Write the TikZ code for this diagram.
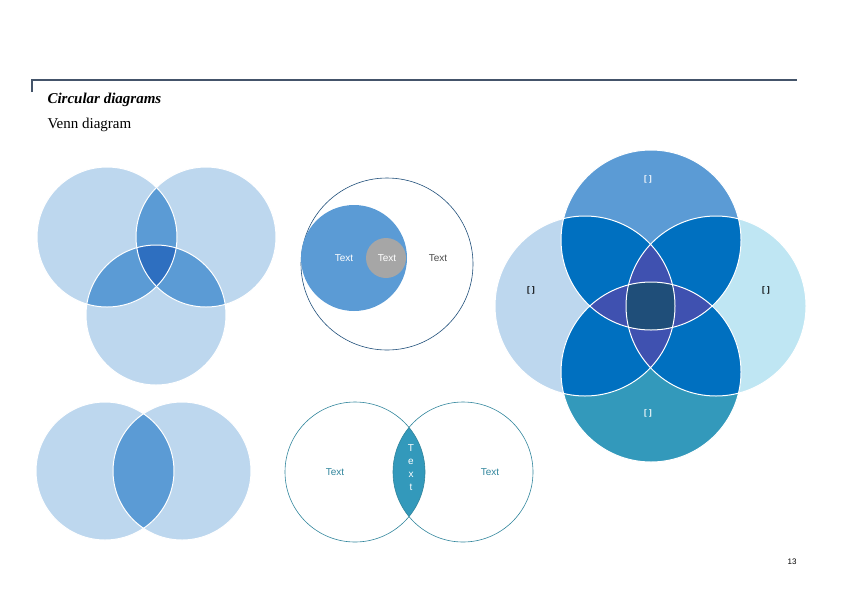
\documentclass[tikz,border=0pt]{standalone}
\usepackage{fontspec}
\setmainfont{Liberation Serif}
\setsansfont{Liberation Sans}
\begin{document}
\begin{tikzpicture}[x=1pt,y=-1pt,
  wline/.style={draw=white,line width=1pt},
  lbl/.style={font=\sffamily\fontsize{10}{12}\selectfont},
  brk/.style={font=\sffamily\bfseries\fontsize{8}{10}\selectfont}]
\useasboundingbox (0,0) rectangle (842,595);
\definecolor{lb}{HTML}{BDD7EE}
\definecolor{mb}{HTML}{5B9BD5}
\definecolor{db}{HTML}{2E6FC0}
\definecolor{cy}{HTML}{BFE6F3}
\definecolor{tb}{HTML}{3399BB}
\definecolor{pb}{HTML}{0070C0}
\definecolor{ib}{HTML}{3F51B0}
\definecolor{nb}{HTML}{1F4E79}
\definecolor{teal}{HTML}{31859C}
\definecolor{head}{HTML}{44546A}
% header
\draw[head,line width=1.5pt] (32,92) -- (32,80) -- (797,80);
\node[anchor=west,font=\bfseries\itshape\fontsize{15}{18}\selectfont] (t1) at (44,100) {Circular diagrams};
\node[anchor=west,font=\fontsize{15}{18}\selectfont] (t2) at (44,125) {Venn diagram};
\node[font=\sffamily\fontsize{8}{10}\selectfont] (pg) at (792,562) {13};
% three-circle venn
\def\A{(107,237) circle (70)}
\def\B{(206,237) circle (70)}
\def\C{(156,315) circle (70)}
\fill[lb] \A; \fill[lb] \B; \fill[lb] \C;
\begin{scope}\clip \A; \fill[mb] \B; \fill[mb] \C; \end{scope}
\begin{scope}\clip \B; \fill[mb] \C; \end{scope}
\begin{scope}\clip \A; \clip \B; \fill[db] \C; \end{scope}
\draw[wline] \A; \draw[wline] \B; \draw[wline] \C;
% two-circle venn
\def\D{(105,471) circle (69)}
\def\E{(182,471) circle (69)}
\fill[lb] \D; \fill[lb] \E;
\begin{scope}\clip \D; \fill[mb] \E; \end{scope}
\draw[wline] \D; \draw[wline] \E;
% nested circles
\draw[nb,line width=0.6pt] (387,264) circle (86);
\fill[mb] (354,258) circle (53);
\fill[gray!70] (386,258) circle (20);
\node[lbl,text=white] (n1) at (344,258) {Text};
\node[lbl,text=white] (n2) at (387,258) {Text};
\node[lbl,text=black!70] (n3) at (438,258) {Text};
% two outlined circles
\def\F{(355,472) circle (70)}
\def\G{(463,472) circle (70)}
\begin{scope}\clip \F; \fill[tb] \G; \end{scope}
\draw[teal,line width=0.6pt] \F; \draw[teal,line width=0.6pt] \G;
\node[lbl,text=teal] (m1) at (335,472) {Text};
\node[lbl,text=teal] (m2) at (490,472) {Text};
\node[lbl,text=white,align=center,font=\sffamily\fontsize{10}{13}\selectfont] (m3) at (411,468) {T\\e\\x\\t};
% four-circle venn
\def\T{(651,240) circle (90)}
\def\L{(585,306) circle (90)}
\def\R{(716,306) circle (90)}
\def\S{(651,372) circle (90)}
\fill[mb] \T; \fill[lb] \L; \fill[cy] \R; \fill[tb] \S;
\begin{scope}\clip \T; \fill[pb] \L; \fill[pb] \R; \fill[pb] \S; \end{scope}
\begin{scope}\clip \L; \fill[pb] \R; \fill[pb] \S; \end{scope}
\begin{scope}\clip \R; \fill[pb] \S; \end{scope}
\begin{scope}\clip \T; \clip \L; \fill[ib] \R; \fill[ib] \S; \end{scope}
\begin{scope}\clip \S; \clip \L; \fill[ib] \R; \end{scope}
\begin{scope}\clip \S; \clip \R; \fill[ib] \T; \end{scope}
\begin{scope}\clip \T; \clip \L; \clip \R; \fill[nb] \S; \end{scope}
\draw[wline] \T; \draw[wline] \L; \draw[wline] \R; \draw[wline] \S;
\node[brk,text=white] (b1) at (648,179) {[ ]};
\node[brk] (b2) at (531,290) {[ ]};
\node[brk] (b3) at (766,290) {[ ]};
\node[brk,text=white] (b4) at (648,413) {[ ]};
\end{tikzpicture}
\end{document}
